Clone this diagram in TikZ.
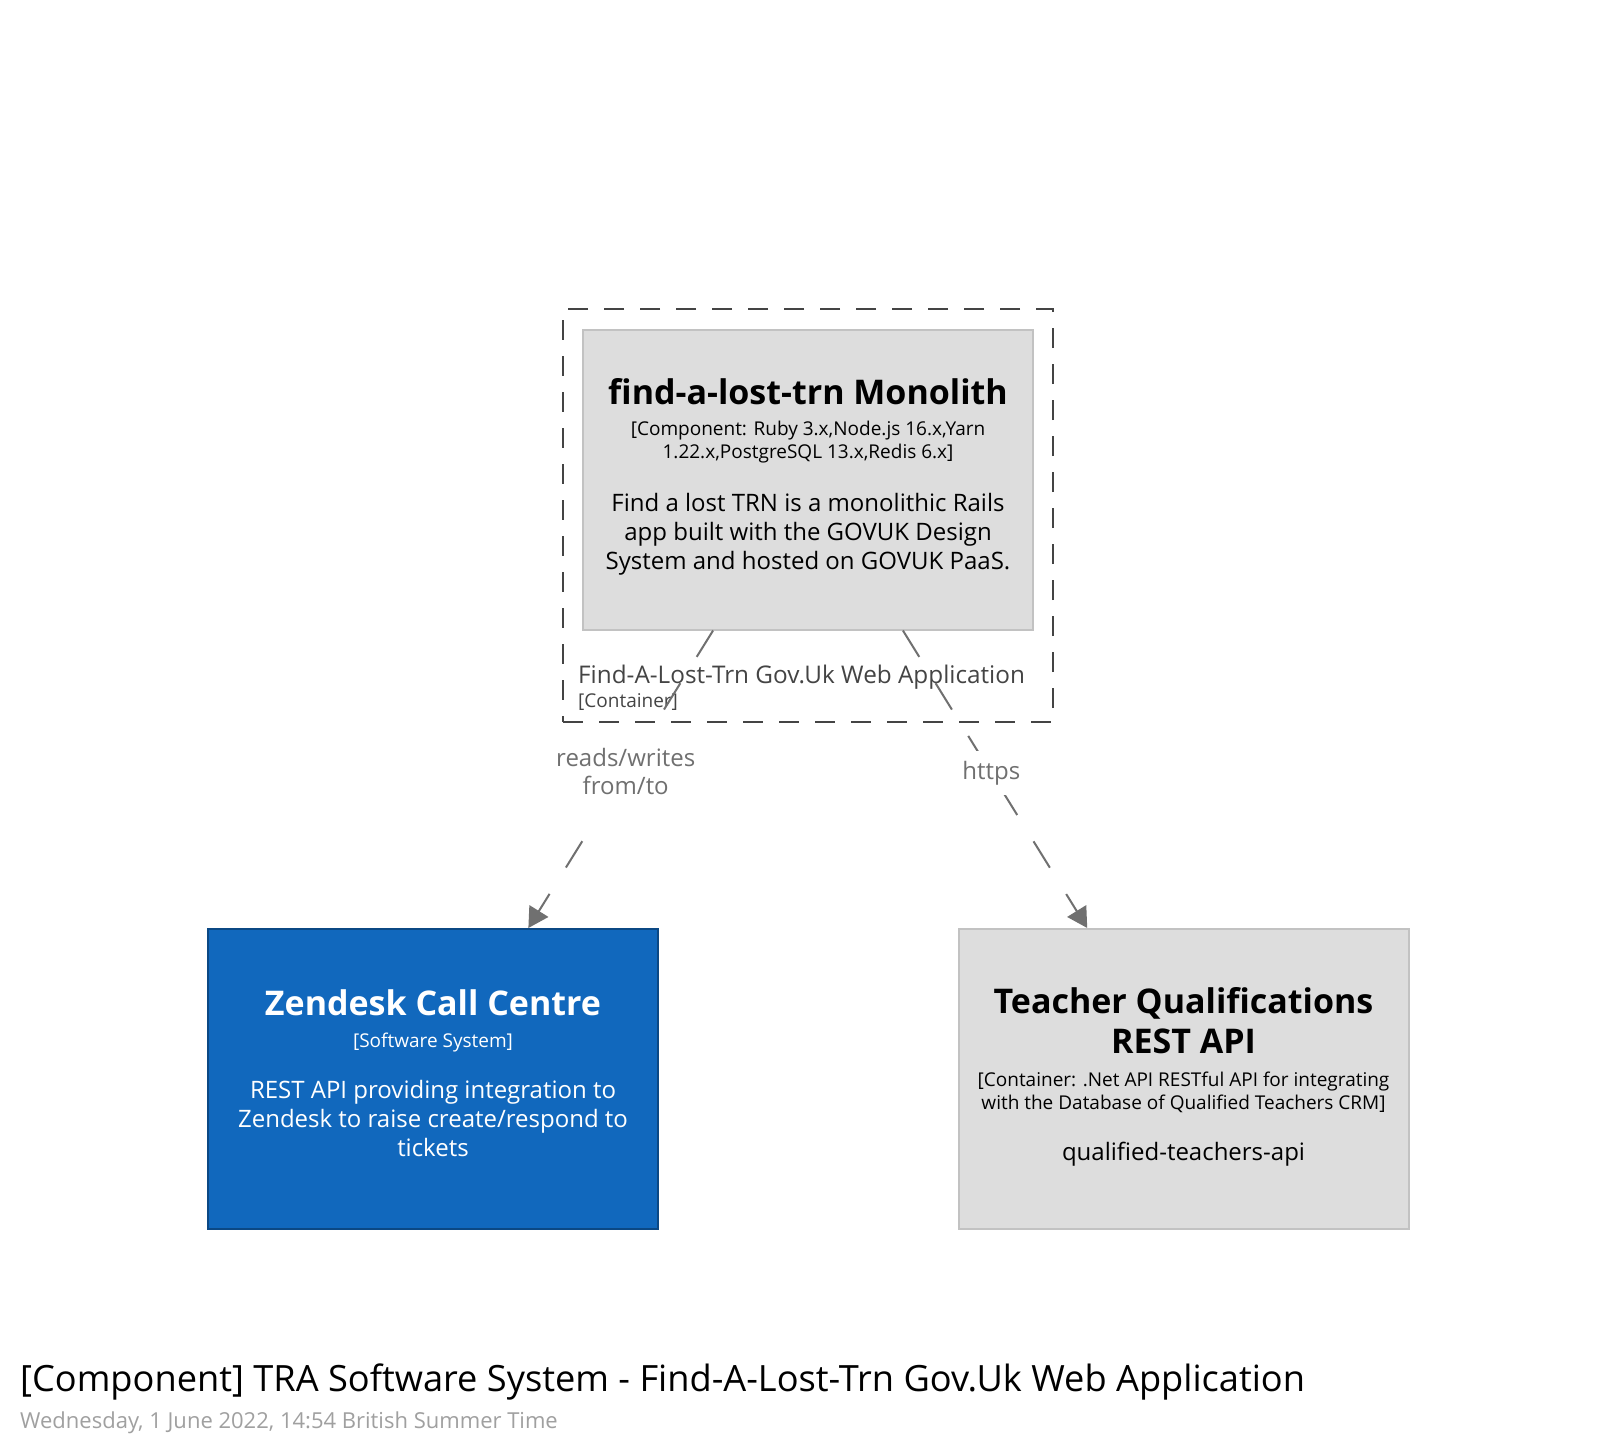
\documentclass[tikz,border=0pt]{standalone}
\usepackage{fontspec}
\setmainfont{Open Sans}
\usetikzlibrary{arrows.meta,calc}
\definecolor{grayfill}{HTML}{DDDDDD}
\definecolor{grayline}{HTML}{C2C2C2}
\definecolor{bluefill}{HTML}{1168BD}
\definecolor{blueline}{HTML}{0B4884}
\definecolor{edgecol}{HTML}{707070}
\definecolor{bndcol}{HTML}{444444}
\definecolor{datecol}{HTML}{A0A0A0}
\begin{document}
\begin{tikzpicture}[x=1pt,y=-1pt,
  elem/.style={rectangle, minimum width=450pt, minimum height=300pt, line width=2pt, inner sep=0pt},
  grayelem/.style={elem, draw=grayline, fill=grayfill},
  blueelem/.style={elem, draw=blueline, fill=bluefill},
  namet/.style={font=\fontsize{34}{40}\selectfont\bfseries, align=center, inner sep=0pt},
  metat/.style={font=\fontsize{19}{23.5}\selectfont, align=center, inner sep=0pt},
  desct/.style={font=\fontsize{24}{29}\selectfont, align=center, inner sep=0pt},
  bndbox/.style={rectangle, draw=bndcol, line width=2pt, dash pattern=on 20pt off 16pt, minimum width=490pt, minimum height=413pt, inner sep=0pt},
  rel/.style={draw=edgecol, line width=2pt, dash pattern=on 31pt off 31pt, -{Triangle[length=20pt,width=22pt]}},
  rellabel/.style={font=\fontsize{24}{28}\selectfont, text=edgecol, fill=white, align=center, inner xsep=8pt, inner ysep=14pt}
]
\useasboundingbox (0,0) rectangle (1616,1454);
\fill[white] (0,0) rectangle (1616,1454);

% boundary
\node[bndbox] (bnd) at (808,515.5) {};

% elements
\node[grayelem] (mono) at (808,479.5) {};
\node[blueelem] (zen) at (433,1079) {};
\node[grayelem] (tq) at (1183.5,1079) {};

% monolith text
\node[namet] (mononame) at (808,392) {find-a-lost-trn Monolith};
\node[metat] (monometa) at (808,442) {[Component: Ruby 3.x,Node.js 16.x,Yarn\\1.22.x,PostgreSQL 13.x,Redis 6.x]};
\node[desct] (monodesc) at (808,534) {Find a lost TRN is a monolithic Rails\\app built with the GOVUK Design\\System and hosted on GOVUK PaaS.};

% zendesk text
\node[namet, text=white] (zenname) at (433,1003) {Zendesk Call Centre};
\node[metat, text=white] (zenmeta) at (433,1042) {[Software System]};
\node[desct, text=white] (zendesc) at (433,1118.5) {REST API providing integration to\\Zendesk to raise create/respond to\\tickets};

% teacher text
\node[namet] (tqname) at (1183.5,1021) {Teacher Qualifications\\REST API};
\node[metat] (tqmeta) at (1183.5,1092.5) {[Container: .Net API RESTful API for integrating\\with the Database of Qualified Teachers CRM]};
\node[desct] (tqdesc) at (1183.5,1154) {qualified-teachers-api};

% boundary label
\node[anchor=west, inner sep=0pt, text=bndcol, font=\fontsize{24.3}{28}\selectfont] (bndname) at (578,677) {Find-A-Lost-Trn Gov.Uk Web Application};
\node[anchor=west, inner sep=0pt, text=bndcol, font=\fontsize{19}{23}\selectfont] (bndtype) at (578,702) {[Container]};

% relationships
\coordinate (m1) at ($(mono.south west)!0.29!(mono.south east)$);
\coordinate (m2) at ($(mono.south west)!0.71!(mono.south east)$);
\coordinate (z1) at ($(zen.north west)!0.711!(zen.north east)$);
\coordinate (t1) at ($(tq.north west)!0.287!(tq.north east)$);
\draw[rel] (m1) -- (z1);
\draw[rel] (m2) -- (t1);
\node[rellabel, inner ysep=24pt] (lab1) at ($(m1)!0.473!(z1)$) {reads/writes\\from/to};
\node[rellabel, inner ysep=10pt] (lab2) at ($(m2)!0.48!(t1)$) {https};

% title
\node[anchor=west, inner sep=0pt, font=\fontsize{36.2}{42}\selectfont] (title) at (20,1382) {[Component] TRA Software System - Find-A-Lost-Trn Gov.Uk Web Application};
\node[anchor=west, inner sep=0pt, text=datecol, font=\fontsize{22}{26}\selectfont] (date) at (20,1423) {Wednesday, 1 June 2022, 14:54 British Summer Time};
\end{tikzpicture}
\end{document}
